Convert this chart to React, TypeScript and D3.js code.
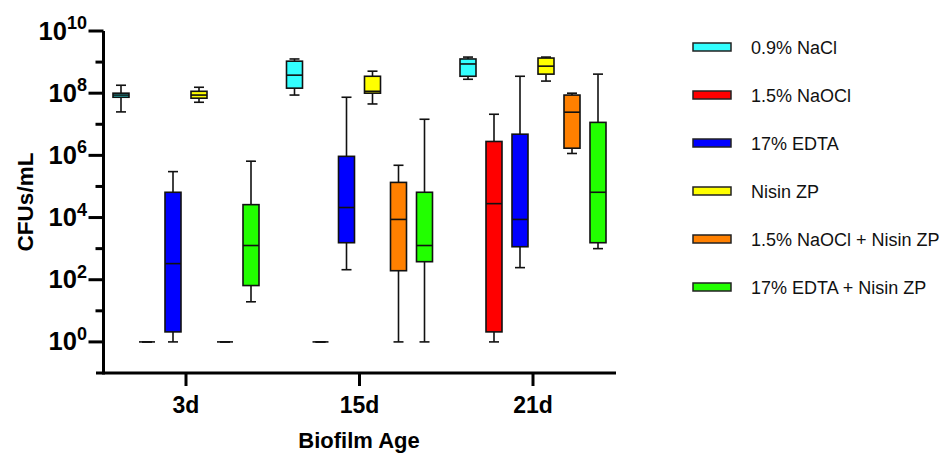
import { useEffect, useRef } from 'react';
import * as d3 from 'd3';

// Chart data (CFUs/mL)
const categories = ['3d', '15d', '21d'];
const seriesNames = ['0.9% NaCl', '1.5% NaOCl', '17% EDTA', 'Nisin ZP', '1.5% NaOCl + Nisin ZP', '17% EDTA + Nisin ZP'];
const seriesColors = ['#33FFFF', '#FF0000', '#0000FF', '#FFFF00', '#FF8000', '#22FF00'];

// five number summaries, one array per statistic: [series][category]
const minValues = [
    [2.5e7, 8.7e7, 2.8e8],
    [1, 1, 1],
    [1, 210, 245],
    [5.1e7, 4.5e7, 2.45e8],
    [1, 1, 1.15e6],
    [19.5, 1, 1000],
];
const q1Values = [
    [7.4e7, 1.45e8, 3.5e8],
    [1, 1, 2.1],
    [2.1, 1550, 1150],
    [6.9e7, 1.0e8, 4.1e8],
    [1, 195, 1.7e6],
    [65, 380, 1550],
];
const medianValues = [
    [8.7e7, 3.8e8, 8.7e8],
    [1, 1, 2.8e4],
    [330, 2.1e4, 8700],
    [8.7e7, 1.15e8, 7.4e8],
    [1, 8700, 2.45e7],
    [1260, 1260, 6.5e4],
];
const q3Values = [
    [1.0e8, 1.07e9, 1.26e9],
    [1, 1, 2.8e6],
    [6.5e4, 9.3e5, 4.8e6],
    [1.15e8, 3.5e8, 1.35e9],
    [1, 1.35e5, 8.7e7],
    [2.6e4, 6.5e4, 1.15e7],
];
const maxValues = [
    [1.8e8, 1.26e9, 1.45e9],
    [1, 1, 2.1e7],
    [3.0e5, 7.4e7, 3.5e8],
    [1.55e8, 5.1e8, 1.45e9],
    [1, 4.8e5, 1.0e8],
    [6.5e5, 1.45e7, 4.1e8],
];

const majorExponents = [0, 2, 4, 6, 8, 10];
const minorExponents = [1, 3, 5, 7, 9];

const FONT = '"Liberation Sans", Arial, Helvetica, sans-serif';

const App = () => {
    const svgRef = useRef<SVGSVGElement>(null);

    useEffect(() => {
        const svg = d3.select(svgRef.current);
        svg.selectAll('*').remove();

        // scales
        const xScale = d3.scalePoint().domain(categories).range([186, 533]);
        const offset = d3.scaleBand().domain(seriesNames).range([-78, 78]);
        const yScale = d3.scaleLog().domain([0.1, 1e10]).range([373, 31]);
        const boxW = 16;
        const capW = 10;
        const axisX = 103.5;
        const axisY = 373;

        // boxes
        const g = svg.append('g');
        seriesNames.forEach((name, s) => {
            categories.forEach((cat, c) => {
                const cx = (xScale(cat) as number) + (offset(name) as number) + offset.bandwidth() / 2;
                const yMin = yScale(minValues[s][c]);
                const yQ1 = yScale(q1Values[s][c]);
                const yMed = yScale(medianValues[s][c]);
                const yQ3 = yScale(q3Values[s][c]);
                const yMax = yScale(maxValues[s][c]);
                const b = g.append('g').attr('stroke', '#111').attr('stroke-width', 1.6);
                // whiskers
                b.append('line').attr('x1', cx).attr('x2', cx).attr('y1', yMax).attr('y2', yQ3);
                b.append('line').attr('x1', cx).attr('x2', cx).attr('y1', yQ1).attr('y2', yMin);
                b.append('line').attr('x1', cx - capW / 2).attr('x2', cx + capW / 2).attr('y1', yMax).attr('y2', yMax);
                b.append('line').attr('x1', cx - capW / 2).attr('x2', cx + capW / 2).attr('y1', yMin).attr('y2', yMin);
                // box
                b.append('rect')
                    .attr('x', cx - boxW / 2)
                    .attr('y', yQ3)
                    .attr('width', boxW)
                    .attr('height', Math.max(0, yQ1 - yQ3))
                    .attr('fill', seriesColors[s]);
                b.append('line').attr('x1', cx - boxW / 2).attr('x2', cx + boxW / 2).attr('y1', yMed).attr('y2', yMed);
            });
        });

        // y axis
        const ax = svg.append('g').attr('stroke', '#000');
        ax.append('line').attr('x1', axisX).attr('x2', axisX).attr('y1', yScale(1e10)).attr('y2', axisY + 1.5).attr('stroke-width', 3);
        majorExponents.forEach((e) => {
            ax.append('line').attr('x1', axisX - 15).attr('x2', axisX).attr('y1', yScale(Math.pow(10, e))).attr('y2', yScale(Math.pow(10, e))).attr('stroke-width', 3);
        });
        minorExponents.forEach((e) => {
            ax.append('line').attr('x1', axisX - 8).attr('x2', axisX).attr('y1', yScale(Math.pow(10, e))).attr('y2', yScale(Math.pow(10, e))).attr('stroke-width', 3);
        });
        majorExponents.forEach((e) => {
            const t = svg.append('text')
                .attr('x', 87)
                .attr('y', yScale(Math.pow(10, e)) + 8.5)
                .attr('text-anchor', 'end')
                .attr('font-family', FONT)
                .attr('font-weight', 'bold')
                .attr('font-size', 25.5);
            t.append('tspan').text('10');
            t.append('tspan').attr('dy', -10.5).attr('font-size', 18).text(String(e));
        });

        // x axis
        ax.append('line').attr('x1', 96).attr('x2', 616).attr('y1', axisY).attr('y2', axisY).attr('stroke-width', 3);
        categories.forEach((cat) => {
            const x = xScale(cat) as number;
            ax.append('line').attr('x1', x).attr('x2', x).attr('y1', axisY).attr('y2', axisY + 13).attr('stroke-width', 3);
            svg.append('text')
                .attr('x', x)
                .attr('y', 413)
                .attr('text-anchor', 'middle')
                .attr('font-family', FONT)
                .attr('font-weight', 'bold')
                .attr('font-size', 23)
                .text(cat);
        });

        // axis titles
        svg.append('text')
            .attr('x', 359)
            .attr('y', 448)
            .attr('text-anchor', 'middle')
            .attr('font-family', FONT)
            .attr('font-weight', 'bold')
            .attr('font-size', 22)
            .text('Biofilm Age');
        svg.append('text')
            .attr('transform', 'translate(33,202) rotate(-90)')
            .attr('text-anchor', 'middle')
            .attr('font-family', FONT)
            .attr('font-weight', 'bold')
            .attr('font-size', 22.5)
            .text('CFUs/mL');

        // legend
        const legendY = d3.scalePoint().domain(seriesNames).range([47, 287]);
        seriesNames.forEach((name, s) => {
            const y = legendY(name) as number;
            svg.append('rect')
                .attr('x', 693)
                .attr('y', y - 4)
                .attr('width', 38)
                .attr('height', 8)
                .attr('fill', seriesColors[s])
                .attr('stroke', '#222')
                .attr('stroke-width', 1.5);
            svg.append('text')
                .attr('x', 751)
                .attr('y', y + 6.5)
                .attr('font-family', FONT)
                .attr('font-size', 18)
                .attr('fill', '#111')
                .text(name);
        });

        return () => { svg.selectAll('*').remove(); };
    }, []);

    return (
        <svg ref={svgRef} width={941} height={453}
            style={{ position: 'absolute', left: 0, top: 0, background: '#fff' }} />
    );
};

export default App;
